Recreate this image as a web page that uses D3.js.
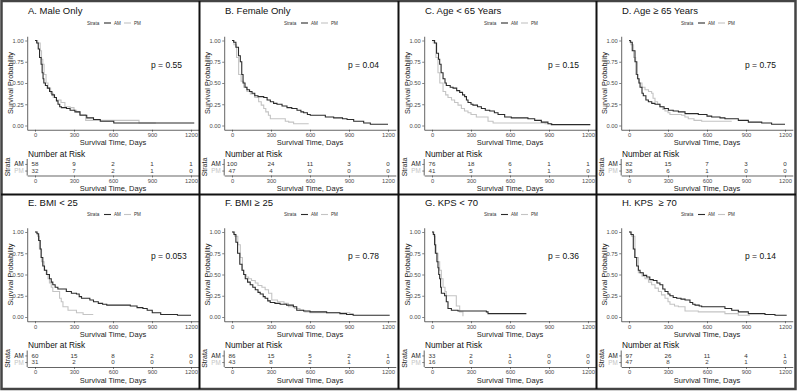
<!DOCTYPE html>
<html>
<head>
<meta charset="utf-8">
<script src="https://cdn.jsdelivr.net/npm/d3@7"></script>
<style>
  body { margin: 0; background: #fff; }
  svg { display: block; font-family: "Liberation Sans", Arial, sans-serif; }
</style>
</head>
<body>
<script>
// panel titles and log-rank p values
var titles = ["A. Male Only", "B. Female Only", "C. Age < 65 Years", "D. Age \u2265 65 Years",
              "E. BMI < 25", "F. BMI \u2265 25", "G. KPS < 70", "H. KPS \u00a0\u2265 70"];
var pvals = ["p = 0.55", "p = 0.04", "p = 0.15", "p = 0.75", "p = 0.053", "p = 0.78", "p = 0.36", "p = 0.14"];
var riskTimes = [0, 300, 600, 900, 1200];
var strata = ["AM", "PM"];

// KM steps [day, survival]
var amA = [[0,1],[13,0.97],[25,0.9],[35,0.8],[47,0.72],[55,0.62],[62,0.55],[68,0.5],[80,0.47],[95,0.44],[112,0.4],[130,0.36],[150,0.33],[165,0.29],[177,0.25],[190,0.22],[203,0.21],[242,0.2],[270,0.18],[307,0.16],[346,0.12],[398,0.09],[450,0.07],[502,0.05],[606,0.03],[1225,0.03]];
var pmA = [[0,1],[20,0.97],[40,0.88],[50,0.78],[60,0.72],[70,0.6],[85,0.5],[100,0.44],[120,0.38],[140,0.33],[165,0.3],[200,0.27],[230,0.22],[270,0.21],[300,0.18],[320,0.16],[345,0.13],[390,0.06],[800,0.03],[930,0.03]];
var amB = [[0,1],[13,0.98],[30,0.92],[50,0.82],[64,0.75],[75,0.6],[85,0.5],[100,0.45],[115,0.42],[135,0.4],[154,0.38],[175,0.35],[200,0.34],[244,0.33],[270,0.3],[295,0.28],[320,0.26],[346,0.25],[385,0.23],[423,0.21],[460,0.2],[500,0.18],[530,0.16],[551,0.15],[580,0.13],[602,0.12],[718,0.1],[782,0.09],[850,0.08],[885,0.07],[936,0.05],[1013,0.03],[1064,0.015],[1200,0.015]];
var pmB = [[0,1],[15,0.95],[35,0.8],[51,0.6],[70,0.52],[90,0.45],[115,0.4],[141,0.37],[175,0.33],[205,0.28],[225,0.24],[244,0.2],[260,0.16],[280,0.12],[295,0.08],[410,0.05],[436,0.04],[474,0.02],[590,0.02]];
var amC = [[0,1],[20,0.97],[35,0.85],[50,0.78],[59,0.72],[70,0.62],[85,0.55],[100,0.5],[110,0.47],[140,0.45],[162,0.44],[190,0.41],[213,0.39],[235,0.36],[251,0.34],[265,0.3],[277,0.27],[300,0.25],[315,0.24],[350,0.22],[380,0.2],[410,0.18],[444,0.17],[480,0.15],[508,0.13],[559,0.1],[610,0.09],[738,0.08],[790,0.06],[841,0.04],[892,0.02],[918,0.01],[1218,0.01]];
var pmC = [[0,1],[10,0.97],[30,0.8],[46,0.62],[60,0.5],[85,0.4],[105,0.36],[123,0.33],[150,0.3],[174,0.27],[200,0.24],[226,0.2],[250,0.17],[277,0.15],[300,0.13],[341,0.1],[431,0.05],[470,0.03],[870,0.02],[930,0.02]];
var amD = [[0,1],[10,0.98],[25,0.88],[46,0.75],[60,0.6],[67,0.55],[77,0.5],[85,0.45],[100,0.38],[110,0.35],[130,0.3],[149,0.28],[175,0.26],[200,0.25],[238,0.22],[270,0.2],[303,0.18],[340,0.17],[380,0.16],[431,0.14],[533,0.13],[600,0.11],[636,0.1],[700,0.09],[738,0.08],[841,0.06],[918,0.04],[1021,0.03],[1097,0.015],[1200,0.015]];
var pmD = [[0,1],[15,0.95],[35,0.8],[51,0.6],[65,0.55],[77,0.5],[100,0.45],[123,0.42],[150,0.4],[174,0.38],[185,0.32],[200,0.28],[220,0.25],[238,0.22],[260,0.19],[277,0.17],[300,0.15],[315,0.13],[405,0.12],[430,0.1],[456,0.08],[500,0.06],[559,0.05],[790,0.05]];
var amE = [[0,1],[15,0.98],[28,0.9],[40,0.8],[47,0.7],[60,0.6],[73,0.55],[90,0.5],[111,0.45],[125,0.41],[137,0.38],[155,0.35],[176,0.33],[241,0.3],[280,0.28],[319,0.27],[340,0.24],[358,0.22],[422,0.2],[450,0.18],[487,0.16],[520,0.15],[552,0.14],[733,0.13],[785,0.11],[830,0.1],[863,0.08],[902,0.05],[967,0.03],[1096,0.02],[1200,0.02]];
var pmE = [[0,1],[20,0.95],[34,0.8],[50,0.65],[70,0.55],[86,0.5],[100,0.45],[111,0.4],[125,0.35],[137,0.3],[189,0.22],[202,0.18],[215,0.12],[254,0.08],[319,0.05],[370,0.03],[448,0.03]];
var amF = [[0,1],[15,0.97],[30,0.88],[43,0.75],[60,0.62],[77,0.55],[90,0.5],[102,0.45],[120,0.41],[140,0.38],[160,0.35],[179,0.32],[200,0.29],[217,0.27],[240,0.24],[255,0.22],[275,0.19],[294,0.17],[330,0.16],[370,0.15],[420,0.14],[472,0.12],[498,0.08],[550,0.07],[600,0.06],[728,0.05],[830,0.04],[881,0.03],[932,0.02],[1213,0.02]];
var pmF = [[0,1],[20,0.95],[45,0.85],[64,0.7],[80,0.55],[89,0.5],[110,0.47],[128,0.45],[150,0.43],[179,0.4],[200,0.37],[230,0.35],[255,0.32],[281,0.28],[306,0.2],[350,0.18],[400,0.16],[434,0.12],[480,0.1],[523,0.08],[560,0.06],[600,0.05],[906,0.04],[932,0.03]];
var amG = [[0,1],[10,0.97],[20,0.85],[26,0.75],[38,0.65],[46,0.58],[52,0.5],[59,0.45],[66,0.35],[72,0.28],[97,0.25],[110,0.18],[123,0.1],[149,0.08],[200,0.07],[418,0.06],[431,0.04],[726,0.04]];
var pmG = [[0,1],[15,0.95],[25,0.85],[33,0.75],[46,0.65],[59,0.55],[72,0.45],[85,0.35],[100,0.3],[110,0.25],[187,0.13],[213,0.06],[238,0.01]];
var amH = [[0,1],[15,0.97],[33,0.8],[45,0.7],[59,0.6],[72,0.55],[85,0.52],[110,0.49],[136,0.47],[160,0.44],[187,0.43],[215,0.4],[238,0.38],[260,0.33],[277,0.3],[300,0.27],[315,0.25],[340,0.23],[367,0.22],[400,0.21],[431,0.2],[469,0.17],[490,0.15],[508,0.14],[540,0.13],[559,0.12],[738,0.1],[790,0.08],[841,0.06],[918,0.04],[1046,0.03],[1123,0.02],[1213,0.02]];
var pmH = [[0,1],[20,0.95],[46,0.7],[72,0.52],[100,0.48],[123,0.45],[150,0.41],[174,0.38],[200,0.34],[226,0.3],[250,0.26],[277,0.22],[300,0.18],[315,0.15],[350,0.13],[380,0.12],[431,0.07],[533,0.06],[738,0.04],[841,0.02],[930,0.02]];

// number at risk at 0/300/600/900/1200
var riskAM = [[58,9,2,1,1],[100,24,11,3,0],[76,18,6,1,1],[82,15,7,3,0],[60,15,8,2,0],[86,15,5,2,1],[33,2,1,0,0],[97,26,11,4,1]];
var riskPM = [[32,7,2,1,0],[47,4,0,0,0],[41,5,1,1,0],[38,6,1,0,0],[31,2,0,0,0],[43,8,2,1,0],[16,0,0,0,0],[47,8,2,1,0]];

var curvesAM = [amA, amB, amC, amD, amE, amF, amG, amH];
var curvesPM = [pmA, pmB, pmC, pmD, pmE, pmF, pmG, pmH];

var W = 797, H = 391;
var colX = [3, 200, 400, 597];
var rowY = [2, 193.5];
var amCol = "#2b2b2b", pmCol = "#c4c4c4";

var svg = d3.select("body").append("svg").attr("width", W).attr("height", H);

function styleAxis(g) {
  g.selectAll("path.domain").attr("stroke", "#222").attr("stroke-width", 0.7);
  g.selectAll(".tick line").attr("stroke", "#333").attr("stroke-width", 0.6);
  g.selectAll(".tick text").attr("fill", "#4d4d4d").style("font-size", "5.8px");
}

titles.forEach(function(t, i) {
  var ox = colX[i % 4], oy = rowY[Math.floor(i / 4)];
  var g = svg.append("g");

  var x = d3.scaleLinear().domain([-60, 1260]).range([ox + 24.2, ox + 195.8]);
  var y = d3.scaleLinear().domain([-0.05, 1.05]).range([oy + 127.75, oy + 34.25]);

  g.append("text").attr("x", ox + 25).attr("y", oy + 9).attr("dy", "0.35em")
    .style("font-size", "9.5px").attr("fill", "#111").text(t);

  // legend
  var lg = g.append("g").attr("transform", "translate(" + (ox + 84) + "," + (oy + 21) + ")");
  lg.append("text").attr("x", 0).attr("dy", "0.35em").style("font-size", "4.6px").attr("fill", "#333").text("Strata");
  lg.append("line").attr("x1", 17).attr("x2", 24).attr("stroke", amCol).attr("stroke-width", 1.1);
  lg.append("text").attr("x", 27).attr("dy", "0.35em").style("font-size", "4.6px").attr("fill", "#333").text("AM");
  lg.append("line").attr("x1", 37).attr("x2", 44).attr("stroke", pmCol).attr("stroke-width", 1.1);
  lg.append("text").attr("x", 47).attr("dy", "0.35em").style("font-size", "4.6px").attr("fill", "#333").text("PM");

  // axes
  var ax = g.append("g").attr("transform", "translate(0," + y(-0.05) + ")")
    .call(d3.axisBottom(x).tickValues(riskTimes).tickFormat(d3.format("d")).tickSize(2).tickSizeOuter(0).tickPadding(1.2));
  styleAxis(ax);
  var ay = g.append("g").attr("transform", "translate(" + x(-60) + ",0)")
    .call(d3.axisLeft(y).tickValues([0, 0.25, 0.5, 0.75, 1]).tickFormat(d3.format(".2f")).tickSize(2).tickSizeOuter(0).tickPadding(1.5));
  styleAxis(ay);

  g.append("text").attr("x", ox + 110).attr("y", oy + 140.5).attr("dy", "0.35em").attr("text-anchor", "middle")
    .style("font-size", "7.5px").attr("fill", "#222").text("Survival Time, Days");
  g.append("text").attr("transform", "translate(" + (ox + 7) + "," + (oy + 81) + ") rotate(-90)")
    .attr("dy", "0.35em").attr("text-anchor", "middle").style("font-size", "7.3px").attr("fill", "#222")
    .text("Survival Probability");

  var line = d3.line().x(function(d) { return x(d[0]); }).y(function(d) { return y(d[1]); }).curve(d3.curveStepAfter);
  g.append("path").datum(curvesPM[i]).attr("d", line).attr("fill", "none").attr("stroke", pmCol).attr("stroke-width", 1.1);
  g.append("path").datum(curvesAM[i]).attr("d", line).attr("fill", "none").attr("stroke", amCol).attr("stroke-width", 1.1);

  g.append("text").attr("x", ox + 148).attr("y", oy + 63).attr("dy", "0.35em")
    .style("font-size", "8.5px").attr("fill", "#111").text(pvals[i]);

  // risk table
  g.append("text").attr("x", ox + 25).attr("y", oy + 152).attr("dy", "0.35em")
    .style("font-size", "8.3px").attr("fill", "#111").text("Number at Risk");

  var ry = d3.scalePoint().domain(strata).range([oy + 157, oy + 173.5]).padding(0.75);
  var rax = g.append("g").attr("transform", "translate(0," + (oy + 173.5) + ")")
    .call(d3.axisBottom(x).tickValues(riskTimes).tickFormat(d3.format("d")).tickSize(2).tickSizeOuter(0).tickPadding(1.2));
  styleAxis(rax);
  var ray = g.append("g").attr("transform", "translate(" + x(-60) + ",0)")
    .call(d3.axisLeft(ry).tickSize(2).tickSizeOuter(0).tickPadding(1.5));
  styleAxis(ray);
  ray.selectAll(".tick text").style("font-size", "6.3px")
    .attr("fill", function(d) { return d === "AM" ? "#222" : pmCol; });
  ray.select("path.domain").attr("d", "M0," + (oy + 157) + "V" + (oy + 173.5));

  [riskAM[i], riskPM[i]].forEach(function(vals, k) {
    g.selectAll(null).data(vals).enter().append("text")
      .attr("x", function(d, j) { return x(riskTimes[j]); })
      .attr("y", ry(strata[k])).attr("dy", "0.35em").attr("text-anchor", "middle")
      .style("font-size", "6.2px").attr("fill", k === 0 ? "#333" : "#444")
      .text(function(d) { return d; });
  });

  g.append("text").attr("x", ox + 110).attr("y", oy + 186.5).attr("dy", "0.35em").attr("text-anchor", "middle")
    .style("font-size", "7.5px").attr("fill", "#222").text("Survival Time, Days");
  g.append("text").attr("transform", "translate(" + (ox + 5) + "," + (oy + 165) + ") rotate(-90)")
    .attr("dy", "0.35em").attr("text-anchor", "middle").style("font-size", "7px").attr("fill", "#222")
    .text("Strata");
});

// panel frame
svg.append("rect").attr("x", 1.5).attr("y", 1).attr("width", 794).attr("height", 388)
  .attr("fill", "none").attr("stroke", "#444").attr("stroke-width", 2.5);
[199.5, 398.5, 596.5].forEach(function(vx) {
  svg.append("line").attr("x1", vx).attr("x2", vx).attr("y1", 1).attr("y2", 389).attr("stroke", "#111").attr("stroke-width", 2);
});
svg.append("line").attr("x1", 1).attr("x2", 796).attr("y1", 194.5).attr("y2", 194.5).attr("stroke", "#111").attr("stroke-width", 2);
</script>
</body>
</html>
